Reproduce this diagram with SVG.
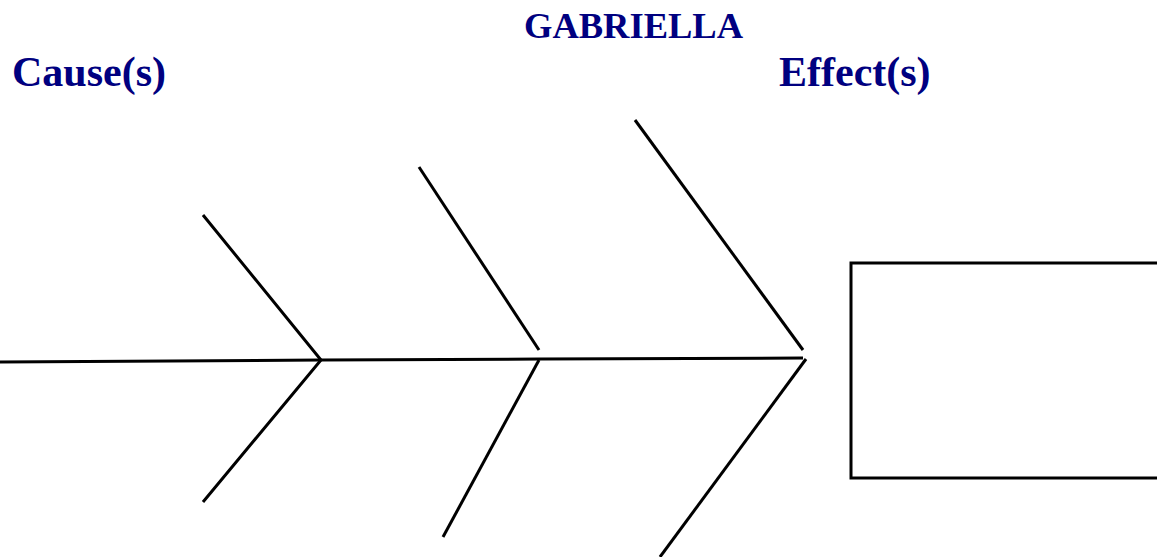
<svg xmlns="http://www.w3.org/2000/svg" width="1157" height="557" viewBox="0 0 1157 557">
<style>
.t{font-family:"Liberation Serif","Times New Roman",serif;font-weight:bold;fill:#000080}
.b{stroke:#000;stroke-width:3;fill:none;stroke-linecap:butt}
</style>
<rect width="1157" height="557" fill="#fff"/>
<g id="title"><text class="t" x="524" y="38" font-size="36.5">GABRIELLA</text></g>
<g id="causes-label"><text class="t" x="12" y="86" font-size="42">Cause(s)</text></g>
<g id="effects-label"><text class="t" x="779" y="86" font-size="42">Effect(s)</text></g>
<g id="effect-box"><rect class="b" x="851" y="263" width="310" height="215"/></g>
<g id="connectors">
<path class="b" d="M0 362 L321 360 L540 359 L803 358"/>
<path class="b" d="M203 215 L321 360 L203 502"/>
<path class="b" d="M419 167 L539 350"/>
<path class="b" d="M539 360 L443 537"/>
<path class="b" d="M635 120 L803 350"/>
<path class="b" d="M806 359 L660 557"/>
</g>
</svg>
